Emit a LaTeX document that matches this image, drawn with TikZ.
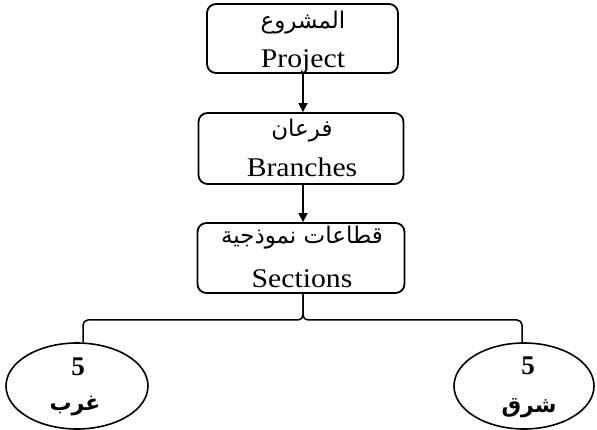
\documentclass[tikz,border=0pt]{standalone}
\usepackage{fontspec}
\setmainfont{Liberation Serif}
\newfontfamily\arabicfont[Script=Arabic]{DejaVu Sans}
\TeXXeTstate=1
\usetikzlibrary{arrows.meta,shapes.geometric}
\begin{document}
\begin{tikzpicture}[x=1pt,y=-1pt,
  box/.style={draw, line width=1.8pt, rounded corners=9pt, inner sep=0pt},
  oval/.style={draw, ellipse, line width=1.6pt, inner sep=0pt},
  artxt/.style={font=\arabicfont\fontsize{23}{26}\selectfont, inner sep=0pt},
  artxtb/.style={font=\arabicfont\bfseries\fontsize{22}{26}\selectfont, inner sep=0pt},
  entxt/.style={font=\fontsize{27}{30}\selectfont, inner sep=0pt, anchor=base},
  numtxt/.style={font=\bfseries\fontsize{27}{28}\selectfont, inner sep=0pt},
  link/.style={line width=1.5pt},
  arr/.style={link, -{Triangle[length=9pt,width=9pt]}}]
\useasboundingbox (0,0) rectangle (597,430);
% boxes
\node[box, minimum width=191pt, minimum height=69pt] (p) at (302.5,38.5) {};
\node[box, minimum width=205pt, minimum height=71pt] (b) at (301,148.5) {};
\node[box, minimum width=207pt, minimum height=70pt] (s) at (301,258) {};
% ellipses
\node[oval, minimum width=142pt, minimum height=86pt] (w) at (77,386) {};
\node[oval, minimum width=140pt, minimum height=86pt] (e) at (524,386) {};
% texts
\node[artxt] (pA) at (303,23) {\beginR المشروع\endR};
\node[entxt] (pE) at (303,68) {\scalebox{1.1}[1]{Project}};
\node[artxt] (bA) at (302,131) {\beginR فرعان\endR};
\node[entxt] (bE) at (302,177) {\scalebox{1.1}[1]{Branches}};
\node[artxt] (sA) at (302,238) {\beginR قطاعات نموذجية\endR};
\node[entxt] (sE) at (302,288) {\scalebox{1.1}[1]{Sections}};
\node[numtxt] (wN) at (78,367) {5};
\node[artxtb] (wA) at (75,406) {\beginR غرب\endR};
\node[numtxt] (eN) at (528,366) {5};
\node[artxtb] (eA) at (529,408) {\beginR شرق\endR};
% connectors
\draw[arr] (p.south -| 303,0) -- (b.north -| 303,0);
\draw[arr] (b.south -| 303,0) -- (s.north -| 303,0);
\coordinate (h) at (303,320);
\coordinate (wt) at (83,0);
\coordinate (et) at (522,0);
\draw[link, rounded corners=5pt] (s.south -| h) -- (h) -| (wt |- w.north);
\draw[link, rounded corners=5pt] (s.south -| h) -- (h) -| (et |- e.north);
\end{tikzpicture}
\end{document}
